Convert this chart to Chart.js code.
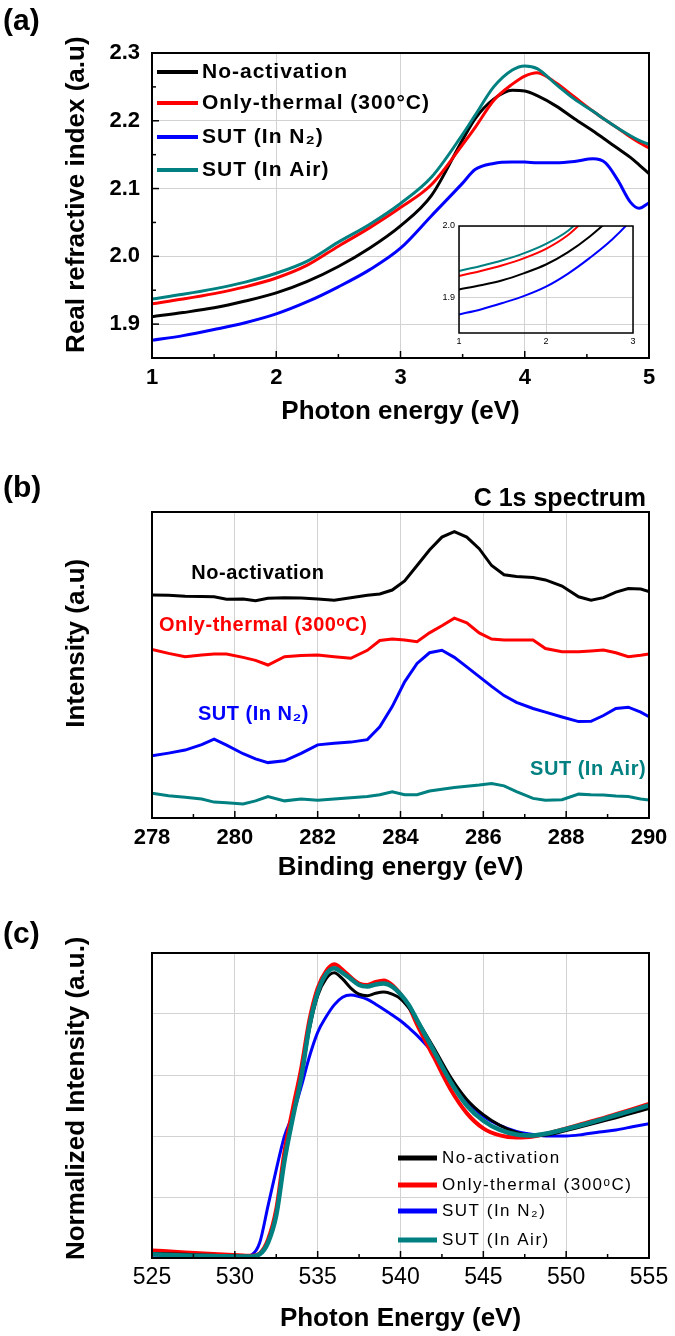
<!DOCTYPE html>
<html>
<head>
<meta charset="utf-8">
<script src="https://cdn.jsdelivr.net/npm/chart.js@4.4.1/dist/chart.umd.min.js"></script>
<style>
  body { margin: 0; background: #fff; }
  #page { position: relative; width: 675px; height: 1336px; font-family: 'Liberation Sans', Arial, sans-serif; }
  canvas { position: absolute; }
  .tag { position: absolute; font-weight: bold; color: #000; white-space: nowrap; }
</style>
</head>
<body>
<div id="page">
  <canvas id="refractive" width="675" height="440" style="left:0;top:0"></canvas>
  <canvas id="inset" width="215" height="140" style="left:430px;top:215px"></canvas>
  <canvas id="xps" width="675" height="450" style="left:0;top:440px"></canvas>
  <canvas id="xas" width="675" height="436" style="left:0;top:900px"></canvas>
  <div class="tag" style="left:3px;top:3px;font-size:30px">(a)</div>
  <div class="tag" style="left:3px;top:470px;font-size:30px">(b)</div>
  <div class="tag" style="left:3px;top:916px;font-size:30px">(c)</div>
  <div class="tag" style="right:29px;top:483px;font-size:25px">C 1s spectrum</div>
</div>
<script>
// colours shared by all three panels
var colors = ['#000000', '#ff0000', '#0000ff', '#008080']

// (a) real refractive index vs photon energy
var aLabels = ['No-activation', 'Only-thermal (300°C)', 'SUT (In N₂)', 'SUT (In Air)']
var aEnergy = [1, 1.25, 1.5, 1.75, 2, 2.25, 2.5, 2.75, 3, 3.25, 3.5, 3.6, 3.75, 3.9, 4, 4.1, 4.25, 4.4, 4.55, 4.65, 4.75, 4.85, 4.92, 5]
var aNoAct   = [1.911, 1.917, 1.924, 1.934, 1.946, 1.963, 1.985, 2.012, 2.045, 2.090, 2.172, 2.203, 2.232, 2.245, 2.244, 2.237, 2.222, 2.203, 2.185, 2.172, 2.159, 2.146, 2.135, 2.122]
var aThermal = [1.930, 1.937, 1.945, 1.955, 1.968, 1.987, 2.015, 2.042, 2.072, 2.106, 2.165, 2.190, 2.230, 2.254, 2.266, 2.271, 2.256, 2.235, 2.214, 2.201, 2.189, 2.176, 2.168, 2.160]
var aSutN2   = [1.876, 1.883, 1.892, 1.902, 1.915, 1.933, 1.955, 1.980, 2.012, 2.060, 2.108, 2.128, 2.137, 2.139, 2.139, 2.138, 2.138, 2.140, 2.144, 2.138, 2.112, 2.080, 2.071, 2.079]
var aSutAir  = [1.937, 1.944, 1.952, 1.962, 1.975, 1.993, 2.021, 2.047, 2.078, 2.117, 2.180, 2.208, 2.250, 2.275, 2.281, 2.277, 2.254, 2.232, 2.214, 2.201, 2.189, 2.178, 2.171, 2.165]
var aYTicks = [1.9, 2.0, 2.1, 2.2, 2.3]
var insetXTicks = [1, 2, 3]
var insetYTicks = [1.9, 2.0]

// (b) C 1s spectrum
var bLabels = ['No-activation', 'Only-thermal (300ᵒC)', 'SUT (In N₂)', 'SUT (In Air)']
var bEnergy = [278, 278.4, 278.8, 279.2, 279.5, 279.8, 280.2, 280.5, 280.8, 281.2, 281.6, 282, 282.4, 282.8, 283.2, 283.5, 283.8, 284.1, 284.4, 284.7, 285, 285.3, 285.6, 285.9, 286.2, 286.5, 286.8, 287.2, 287.5, 287.9, 288.3, 288.6, 288.9, 289.2, 289.5, 289.8, 290]
var bNoAct   = [72.9, 72.8, 72.5, 72.4, 72.3, 71.5, 71.6, 71.0, 71.8, 72.0, 71.9, 71.6, 71.2, 72.0, 72.8, 73.2, 74.5, 77.5, 82.5, 87.6, 91.8, 93.6, 91.8, 88.0, 82.5, 79.5, 78.9, 78.6, 77.8, 75.8, 72.3, 71.2, 72.0, 73.8, 75.0, 74.8, 74.0]
var bThermal = [55.1, 53.8, 52.7, 53.3, 53.6, 53.6, 52.5, 51.5, 50.0, 52.7, 53.1, 53.3, 52.7, 52.2, 54.8, 58.0, 58.5, 58.2, 57.6, 60.5, 62.8, 65.3, 63.8, 60.5, 58.5, 58.2, 58.2, 58.2, 55.4, 54.3, 54.3, 54.6, 54.9, 54.0, 52.7, 53.2, 53.6]
var bSutN2   = [20.3, 21.2, 22.2, 24.0, 25.8, 23.8, 21.0, 19.3, 18.1, 18.7, 21.1, 23.9, 24.4, 24.8, 25.6, 29.8, 36.4, 44.5, 50.5, 54.0, 54.8, 52.5, 49.4, 46.2, 43.0, 40.0, 37.8, 35.8, 34.6, 33.0, 31.5, 31.6, 33.5, 35.8, 36.2, 34.6, 33.1]
var bSutAir  = [8.1, 7.3, 6.8, 6.2, 5.2, 5.0, 4.6, 5.6, 7.0, 5.6, 6.2, 5.8, 6.2, 6.6, 7.0, 7.6, 8.6, 7.6, 7.6, 8.8, 9.4, 10.0, 10.4, 10.8, 11.3, 10.5, 8.6, 6.4, 5.8, 6.0, 7.8, 7.6, 7.5, 7.2, 7.0, 6.2, 5.9]

// (c) O K-edge, normalized
var cLabels = ['No-activation', 'Only-thermal (300ᵒC)', 'SUT (In N₂)', 'SUT (In Air)']
var cEnergy = [525, 527, 529, 530.5, 531, 531.5, 532, 532.5, 533, 533.5, 534, 534.5, 535, 535.5, 536, 536.5, 537, 537.5, 538, 538.5, 539, 539.5, 540, 540.5, 541, 542, 543, 544, 545, 546, 547, 548, 549, 550, 551, 552, 553, 554, 555]
var cNoAct   = [0.015, 0.012, 0.008, 0.006, 0.005, 0.012, 0.05, 0.14, 0.32, 0.46, 0.59, 0.75, 0.86, 0.915, 0.935, 0.915, 0.885, 0.865, 0.86, 0.868, 0.872, 0.865, 0.85, 0.82, 0.78, 0.69, 0.595, 0.52, 0.47, 0.435, 0.412, 0.402, 0.405, 0.418, 0.432, 0.446, 0.46, 0.475, 0.49]
var cThermal = [0.025, 0.018, 0.012, 0.008, 0.007, 0.015, 0.06, 0.16, 0.35, 0.49, 0.62, 0.78, 0.885, 0.94, 0.963, 0.945, 0.92, 0.90, 0.895, 0.905, 0.91, 0.895, 0.865, 0.825, 0.765, 0.66, 0.555, 0.475, 0.425, 0.402, 0.395, 0.398, 0.41, 0.425, 0.44, 0.455, 0.472, 0.488, 0.505]
var cSutN2   = [0.01, 0.007, 0.005, 0.005, 0.01, 0.05, 0.17, 0.29, 0.40, 0.47, 0.56, 0.66, 0.74, 0.79, 0.83, 0.855, 0.862, 0.857, 0.848, 0.832, 0.815, 0.797, 0.778, 0.755, 0.73, 0.67, 0.59, 0.515, 0.465, 0.435, 0.415, 0.405, 0.40, 0.40, 0.405, 0.413, 0.42, 0.43, 0.44]
var cSutAir  = [0.012, 0.008, 0.006, 0.005, 0.005, 0.012, 0.05, 0.14, 0.32, 0.46, 0.59, 0.76, 0.87, 0.93, 0.95, 0.935, 0.915, 0.895, 0.89, 0.897, 0.90, 0.89, 0.865, 0.83, 0.78, 0.68, 0.58, 0.50, 0.45, 0.42, 0.405, 0.402, 0.41, 0.423, 0.437, 0.452, 0.468, 0.484, 0.50]

Chart.defaults.font.family = "'Liberation Sans', Arial, sans-serif"
Chart.defaults.color = '#000'
Chart.defaults.animation = false

var FONT = "'Liberation Sans', Arial, sans-serif"
var GRID = '#d2d2d2'

function pairs(xs, ys) {
    return xs.map(function (x, i) { return { x: x, y: ys[i] } })
}

function series(labels, xs, list, widths, orders, tension) {
    return list.map(function (ys, i) {
        return {
            label: labels[i],
            data: pairs(xs, ys),
            borderColor: colors[i],
            backgroundColor: colors[i],
            borderWidth: widths[i],
            order: orders[i],
            pointRadius: 0,
            fill: false,
            tension: tension,
            cubicInterpolationMode: tension ? 'monotone' : 'default'
        }
    })
}

// box round the plot area + little inward ticks
var frame = {
    id: 'frame',
    afterDatasetsDraw: function (chart, args, o) {
        var ctx = chart.ctx, a = chart.chartArea
        ctx.save()
        ctx.strokeStyle = '#000'
        ctx.lineWidth = 1.5
        function marks(sc, minor, major, vertical) {
            if (!minor) return
            var n = Math.round((sc.max - sc.min) / minor)
            for (var k = 0; k <= n; k++) {
                var v = sc.min + k * minor
                var big = Math.abs(v / major - Math.round(v / major)) < 1e-6
                var len = big ? 7 : 4
                var p = sc.getPixelForValue(v)
                ctx.beginPath()
                if (vertical) { ctx.moveTo(a.left, p); ctx.lineTo(a.left + len, p) }
                else { ctx.moveTo(p, a.bottom); ctx.lineTo(p, a.bottom - len) }
                ctx.stroke()
            }
        }
        marks(chart.scales.x, o.xMinor, o.xMajor, false)
        marks(chart.scales.y, o.yMinor, o.yMajor, true)
        ctx.lineWidth = o.width || 2
        ctx.strokeRect(a.left, a.top, a.right - a.left, a.bottom - a.top)
        ctx.restore()
    }
}

// legend drawn inside the plot area
var key = {
    id: 'key',
    afterDraw: function (chart, args, o) {
        if (!o.rows) return
        var ctx = chart.ctx, a = chart.chartArea
        ctx.save()
        ctx.font = o.font
        ctx.letterSpacing = o.spacing
        ctx.textBaseline = 'middle'
        ctx.textAlign = 'left'
        chart.data.datasets.forEach(function (ds, i) {
            var y = a.top + o.rows[i]
            ctx.strokeStyle = ds.borderColor
            ctx.lineWidth = o.lineWidth
            ctx.beginPath()
            ctx.moveTo(a.left + o.x0, y)
            ctx.lineTo(a.left + o.x1, y)
            ctx.stroke()
            ctx.fillStyle = '#000'
            ctx.fillText(ds.label, a.left + o.textX, y)
        })
        ctx.restore()
    }
}

// curve names written next to the curves, placed in data units
var tags = {
    id: 'tags',
    afterDraw: function (chart, args, o) {
        if (!o.at) return
        var ctx = chart.ctx, sx = chart.scales.x, sy = chart.scales.y
        ctx.save()
        ctx.font = o.font
        ctx.letterSpacing = o.spacing
        ctx.textBaseline = 'middle'
        chart.data.datasets.forEach(function (ds, i) {
            var p = o.at[i]
            ctx.fillStyle = ds.borderColor
            ctx.textAlign = p.align
            ctx.fillText(ds.label, sx.getPixelForValue(p.x), sy.getPixelForValue(p.y))
        })
        ctx.restore()
    }
}

var quiet = { legend: { display: false }, tooltip: { enabled: false } }

// ---- (a)
new Chart(document.getElementById('refractive'), {
    type: 'line',
    data: { datasets: series(aLabels, aEnergy, [aNoAct, aThermal, aSutN2, aSutAir], [3, 3, 3, 3], [2, 1, 3, 0], 0.4) },
    plugins: [frame, key],
    options: {
        responsive: false,
        layout: { padding: { top: 53, right: 26, left: 0, bottom: 0 } },
        plugins: Object.assign({
            frame: { xMinor: 0.5, xMajor: 1, yMinor: 0.05, yMajor: 0.1, width: 2 },
            key: { rows: [19, 50, 84, 117], x0: 5, x1: 46, textX: 50, lineWidth: 4, font: 'bold 21px ' + FONT, spacing: '1px' }
        }, quiet),
        scales: {
            x: {
                type: 'linear', min: 1, max: 5,
                ticks: { stepSize: 1, padding: 7, font: { size: 22, weight: 'bold' } },
                grid: { color: GRID, drawTicks: false },
                border: { display: false },
                title: { display: true, text: 'Photon energy (eV)', font: { size: 26, weight: 'bold' }, padding: { top: 0, bottom: 13 } },
                afterFit: function (s) { s.height = 82 }
            },
            y: {
                min: 1.85, max: 2.3,
                afterBuildTicks: function (s) { s.ticks = aYTicks.map(function (v) { return { value: v } }) },
                ticks: { padding: 12, font: { size: 22, weight: 'bold' }, callback: function (v) { return Number(v).toFixed(1) } },
                grid: { color: GRID, drawTicks: false },
                border: { display: false },
                title: { display: true, text: '   Real refractive index (a.u)', font: { size: 26, weight: 'bold' }, padding: { top: 61, bottom: 0 } },
                afterFit: function (s) { s.width = 152 }
            }
        }
    }
})

// ---- (a) inset
new Chart(document.getElementById('inset'), {
    type: 'line',
    data: { datasets: series(aLabels, aEnergy, [aNoAct, aThermal, aSutN2, aSutAir], [2, 2, 2, 2], [2, 1, 3, 0], 0.4).map(function (d) { d.clip = 0; return d }) },
    plugins: [frame],
    options: {
        responsive: false,
        layout: { padding: { top: 11, right: 12, left: 0, bottom: 0 } },
        plugins: Object.assign({ frame: { width: 1.5 } }, quiet),
        scales: {
            x: {
                type: 'linear', min: 1, max: 3,
                afterBuildTicks: function (s) { s.ticks = insetXTicks.map(function (v) { return { value: v } }) },
                ticks: { padding: 3, font: { size: 9 } },
                grid: { color: GRID, drawTicks: false },
                border: { display: false },
                afterFit: function (s) { s.height = 22 }
            },
            y: {
                min: 1.85, max: 2.0,
                afterBuildTicks: function (s) { s.ticks = insetYTicks.map(function (v) { return { value: v } }) },
                ticks: { padding: 4, font: { size: 9 }, callback: function (v) { return Number(v).toFixed(1) } },
                grid: { color: GRID, drawTicks: false },
                border: { display: false },
                afterFit: function (s) { s.width = 29 }
            }
        }
    }
})

// ---- (b)
new Chart(document.getElementById('xps'), {
    type: 'line',
    data: { datasets: series(bLabels, bEnergy, [bNoAct, bThermal, bSutN2, bSutAir], [3, 3, 3, 3], [0, 1, 2, 3], 0) },
    plugins: [frame, tags],
    options: {
        responsive: false,
        layout: { padding: { top: 72, right: 26, left: 0, bottom: 0 } },
        plugins: Object.assign({
            frame: { xMinor: 1, xMajor: 2, width: 2 },
            tags: {
                font: 'bold 20px ' + FONT, spacing: '0.5px',
                at: [
                    { x: 278.95, y: 80, align: 'left' },
                    { x: 278.17, y: 63, align: 'left' },
                    { x: 279.11, y: 33.7, align: 'left' },
                    { x: 289.93, y: 15.7, align: 'right' }
                ]
            }
        }, quiet),
        scales: {
            x: {
                type: 'linear', min: 278, max: 290,
                ticks: { stepSize: 2, padding: 7, font: { size: 22, weight: 'bold' } },
                grid: { color: GRID, drawTicks: false },
                border: { display: false },
                title: { display: true, text: 'Binding energy (eV)', font: { size: 26, weight: 'bold' }, padding: { top: 0, bottom: 7 } },
                afterFit: function (s) { s.height = 72 }
            },
            y: {
                min: 0, max: 100,
                ticks: { display: false },
                grid: { display: false },
                border: { display: false },
                title: { display: true, text: '      Intensity (a.u)', font: { size: 26, weight: 'bold' }, padding: { top: 61, bottom: 0 } },
                afterFit: function (s) { s.width = 152 }
            }
        }
    }
})

// ---- (c)
new Chart(document.getElementById('xas'), {
    type: 'line',
    data: { datasets: series(cLabels, cEnergy, [cNoAct, cThermal, cSutN2, cSutAir], [3, 4, 3, 4.5], [1, 2, 3, 0], 0.3) },
    plugins: [frame, key],
    options: {
        responsive: false,
        layout: { padding: { top: 53, right: 26, left: 0, bottom: 0 } },
        plugins: Object.assign({
            frame: { xMinor: 2.5, xMajor: 5, width: 2 },
            key: { rows: [205, 232, 258, 287], x0: 246, x1: 285, textX: 290, lineWidth: 5, font: '17px ' + FONT, spacing: '1.5px' }
        }, quiet),
        scales: {
            x: {
                type: 'linear', min: 525, max: 555,
                ticks: { stepSize: 5, padding: 6, font: { size: 23 } },
                grid: { color: GRID, drawTicks: false },
                border: { display: false },
                title: { display: true, text: 'Photon Energy (eV)', font: { size: 26, weight: 'bold' }, padding: { top: 0, bottom: 2 } },
                afterFit: function (s) { s.height = 78 }
            },
            y: {
                min: 0, max: 1,
                ticks: { display: false, stepSize: 0.2 },
                grid: { color: GRID, drawTicks: false },
                border: { display: false },
                title: { display: true, text: '  Normalized Intensity (a.u.)', font: { size: 26, weight: 'bold' }, padding: { top: 61, bottom: 0 } },
                afterFit: function (s) { s.width = 152 }
            }
        }
    }
})
</script>
</body>
</html>
